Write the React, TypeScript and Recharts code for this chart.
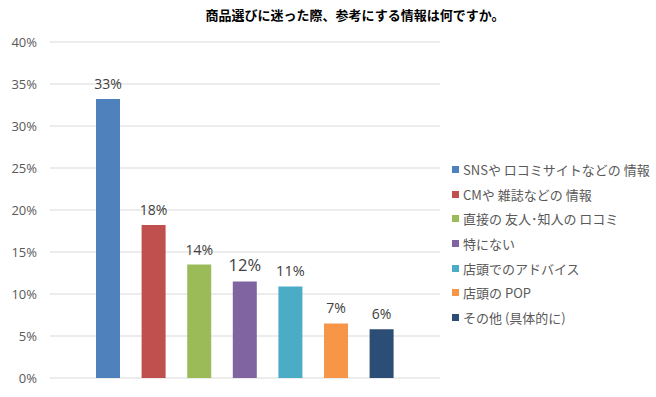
import React from 'react';
import { BarChart, Bar, XAxis, YAxis, CartesianGrid, LabelList, Legend } from 'recharts';

const title = '商品選びに迷った際、参考にする情報は何ですか。';
const seriesNames = [
  'SNSや ロコミサイトなどの 情報',
  'CMや 雑誌などの 情報',
  '直接の 友人･知人の ロコミ',
  '特にない',
  '店頭でのアドバイス',
  '店頭の POP',
  'その他 (具体的に)',
];
const seriesValues = [33.2, 18.2, 13.5, 11.5, 10.9, 6.5, 5.8];
const seriesColors = ['#4F81BD', '#C0504D', '#9BBB59', '#8064A2', '#4BACC6', '#F79646', '#2C4D75'];
const labelSizes = [14, 14, 14, 16.5, 14.5, 14, 14];
const yTicks = [0, 5, 10, 15, 20, 25, 30, 35, 40];

const keys = seriesNames.map((_, i) => `s${i}`);
const row: Record<string, number | string> = { name: '' };
keys.forEach((k, i) => {
  row[k] = seriesValues[i];
});
const data = [row];

const FONT = '"Open Sans", "Noto Sans CJK JP", sans-serif';

const LegendContent = () => (
  <div style={{ fontFamily: '"Noto Sans CJK JP", "Open Sans", sans-serif', fontSize: 13, color: '#595959' }}>
    {seriesNames.map((n, i) => (
      <div key={i} style={{ display: 'flex', alignItems: 'center', height: 24.7, whiteSpace: 'nowrap' }}>
        <span style={{ display: 'inline-block', width: 7, height: 7, background: seriesColors[i], marginRight: 4 }} />
        <span>{n}</span>
      </div>
    ))}
  </div>
);

export default function App() {
  return (
    <div style={{ position: 'absolute', left: 0, top: 0, width: 656, height: 397, background: '#fff' }}>
      <div
        style={{
          position: 'absolute',
          left: 0,
          width: 710,
          top: 6,
          textAlign: 'center',
          fontFamily: '"Noto Sans CJK JP", sans-serif',
          fontWeight: 700,
          fontSize: 13,
          color: '#000',
          lineHeight: '18px',
        }}
      >
        {title}
      </div>
      <BarChart
        width={656}
        height={397}
        data={data}
        margin={{ top: 42, right: 216, bottom: 19, left: 0 }}
        barSize={24}
        barGap={21.6}
      >
        <CartesianGrid vertical={false} stroke="#d9d9d9" />
        <XAxis dataKey="name" height={0} tick={false} tickLine={false} axisLine={{ stroke: '#d9d9d9' }} />
        <YAxis
          width={50}
          domain={[0, 40]}
          ticks={yTicks}
          interval={0}
          tickFormatter={(v: number) => `${v}%`}
          axisLine={false}
          tickLine={false}
          tickSize={0}
          tickMargin={13}
          tick={{ fill: '#595959', fontSize: 13, fontFamily: FONT }}
        />
        <Legend
          layout="vertical"
          align="center"
          verticalAlign="middle"
          content={<LegendContent />}
          wrapperStyle={{ left: 452, top: 157, width: 204 }}
        />
        {keys.map((k, i) => (
          <Bar key={k} dataKey={k} name={seriesNames[i]} fill={seriesColors[i]} isAnimationActive={false}>
            <LabelList
              dataKey={k}
              position="top"
              offset={10}
              formatter={(v: any) => `${Math.round(Number(v))}%`}
              style={{ fill: '#404040', fontSize: labelSizes[i], fontFamily: FONT }}
            />
          </Bar>
        ))}
      </BarChart>
    </div>
  );
}
